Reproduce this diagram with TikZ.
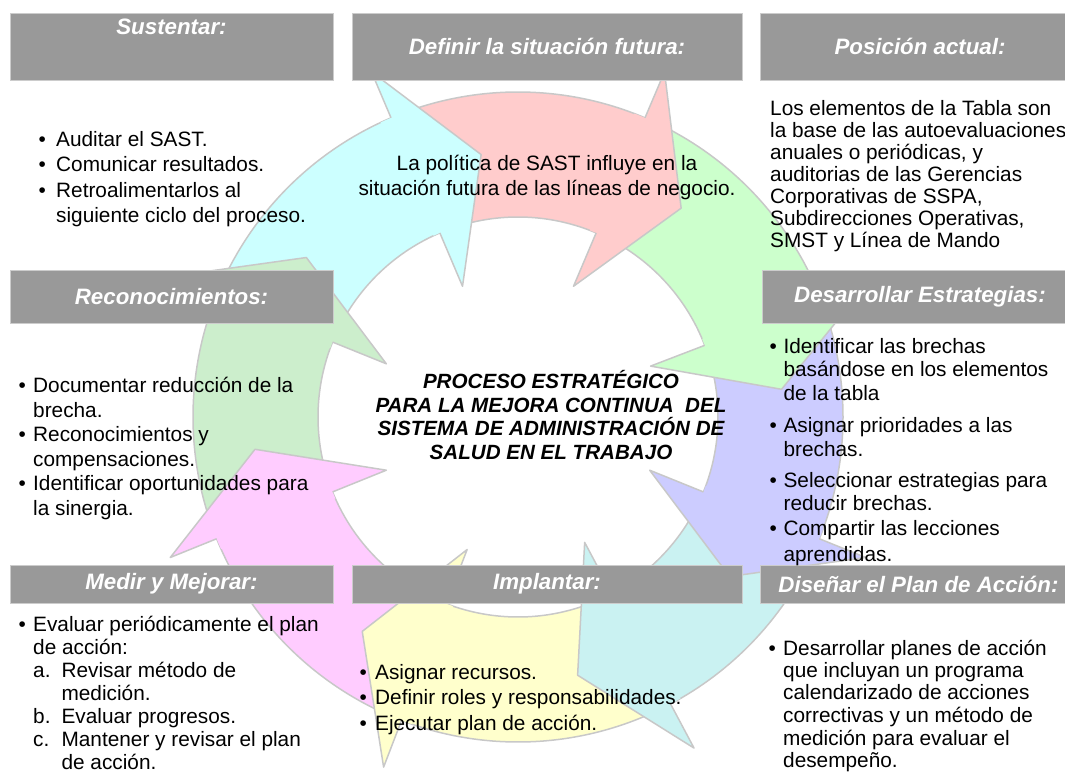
\documentclass[tikz,border=0pt]{standalone}
\usepackage{fontspec}
\setmainfont{Liberation Sans}
\usetikzlibrary{positioning}
\usetikzlibrary{calc}

\definecolor{ringcyan}{RGB}{204,255,255}
\definecolor{ringpink}{RGB}{255,204,204}
\definecolor{ringgreen}{RGB}{204,255,204}
\definecolor{ringlilac}{RGB}{204,204,255}
\definecolor{ringteal}{RGB}{202,242,242}
\definecolor{ringyellow}{RGB}{255,255,204}
\definecolor{ringmagenta}{RGB}{255,204,255}
\definecolor{ringsage}{RGB}{204,238,204}
\definecolor{ringline}{RGB}{200,200,200}
\definecolor{headgray}{RGB}{153,153,153}

\newcommand{\bulit}[1][14.6bp]{\strut\makebox[#1][l]{\textbullet}}
\newcommand{\contl}[1][14.6bp]{\strut\hspace*{#1}}
\newcommand{\subit}[1]{\makebox[28.4bp][l]{#1}}

\begin{document}
\begin{tikzpicture}[x=1bp, y=-1bp,
	hbox/.style={fill=headgray, draw=gray!40, line width=0.8bp, inner sep=0pt, text=white, font=\fontsize{22.3bp}{26bp}\selectfont\bfseries\itshape},
	htxt/.style={inner sep=0pt, text=white, font=\fontsize{22.3bp}{26bp}\selectfont\bfseries\itshape},
	bodytxt/.style={font={\fontsize{20.8bp}{#1}\selectfont}, align=left, anchor=north west, inner sep=0pt},
	arrowbody/.style={draw=ringline, line width=1.5bp, line join=round},
	arrowedge/.style={draw=ringline, line width=1.5bp, line join=round}]
			\useasboundingbox (0,0) rectangle (1065,776) ;
			\begin{scope}[shift={(518,417)}, y=1bp]
				\foreach \col/\ta/\hb in {ringcyan/153/113, ringpink/108/67, ringgreen/62/21, ringlilac/16/-22, ringteal/-27/-62, ringyellow/-67/-111, ringmagenta/-116/-158, ringsage/197/158}
					\path[arrowbody, fill=\col] (\ta:325) arc[start angle=\ta, end angle=\hb, radius=325] -- (\hb:200) arc[start angle=\hb, end angle=\ta, radius=200] -- cycle ;
				\foreach \col/\hb in {ringcyan/113, ringpink/67, ringgreen/21, ringlilac/-22, ringteal/-62, ringyellow/-111, ringmagenta/-158, ringsage/158} {
					\fill[\col] ({\hb+2}:325) arc[start angle={\hb+2}, end angle=\hb, radius=325] -- (\hb:375) -- ({\hb-15}:265) -- (\hb:142) -- (\hb:200) arc[start angle=\hb, end angle={\hb+2}, radius=200] -- cycle ;
					\draw[arrowedge] (\hb:325) -- (\hb:375) -- ({\hb-15}:265) -- (\hb:142) -- (\hb:200) ; }
			\end{scope}
			\node at (171.5,46.5) (hsus) [hbox, minimum width=323bp, minimum height=67bp] {} ;
			\node [htxt, below=6bp of hsus.north] (lsus) {Sustentar:} ;
			\node at (547,46.5) (hdef) [hbox, minimum width=390bp, minimum height=67bp] {Definir la situación futura:} ;
			\node at (912.5,46.5) (hpos) [hbox, minimum width=305bp, minimum height=67bp] {\hspace*{15bp}Posición actual:} ;
			\node at (171.5,296.5) (hrec) [hbox, minimum width=323bp, minimum height=53bp] {Reconocimientos:} ;
			\node at (913.5,296.5) (hdes) [hbox, minimum width=303bp, minimum height=53bp] {\hspace*{13bp}Desarrollar Estrategias:} ;
			\node at (171.5,584) (hmed) [hbox, minimum width=323bp, minimum height=38bp] {Medir y Mejorar:} ;
			\node at (547,584) (himp) [hbox, minimum width=390bp, minimum height=38bp] {Implantar:} ;
			\node at (912.5,584) (hdis) [hbox, minimum width=305bp, minimum height=38bp] {\hspace*{12bp}Diseñar el Plan de Acción:} ;
			\node at (38.4,128) (tsus) [bodytxt=25.6bp] {\bulit[17.6bp]Auditar el SAST.\\ \bulit[17.6bp]Comunicar resultados.\\ \bulit[17.6bp]Retroalimentarlos al\\ \contl[17.6bp]siguiente ciclo del proceso.} ;
			\node at (547,153) (tdef) [bodytxt=25bp, align=center, anchor=north] {\strut La política de SAST influye en la\\ \strut situación futura de las líneas de negocio.} ;
			\node at (770,100) (tpos) [bodytxt=22bp] {\strut Los elementos de la Tabla son\\ \strut la base de las autoevaluaciones\\ \strut anuales o periódicas, y\\ \strut auditorias de las Gerencias\\ \strut Corporativas de SSPA,\\ \strut Subdirecciones Operativas,\\ \strut SMST y Línea de Mando} ;
			\node at (18.4,375) (trec) [bodytxt=24.6bp] {\bulit Documentar reducción de la\\ \contl brecha.\\ \bulit Reconocimientos y\\ \contl compensaciones.\\ \bulit Identificar oportunidades para\\ \contl la sinergia.} ;
			\node at (769.4,336.4) (tdes) [bodytxt=23.5bp] {\bulit[14bp]Identificar las brechas\\ \contl[14bp]basándose en los elementos\\ \contl[14bp]de la tabla\\[9bp] \bulit[14bp]Asignar prioridades a las\\ \contl[14bp]brechas.\\[7.5bp] \bulit[14bp]Seleccionar estrategias para\\ \contl[14bp]reducir brechas.\\[1.5bp] \bulit[14bp]Compartir las lecciones\\[2bp] \contl[14bp]aprendidas.} ;
			\node at (18.4,615) (tmed) [bodytxt=23bp] {\bulit Evaluar periódicamente el plan\\ \contl de acción:\\ \contl\subit{a.}Revisar método de\\ \contl\subit{}medición.\\ \contl\subit{b.}Evaluar progresos.\\ \contl\subit{c.}Mantener y revisar el plan\\ \contl\subit{}de acción.} ;
			\node at (359.4,661) (timp) [bodytxt=25.5bp] {\bulit[15.6bp]Asignar recursos.\\ \bulit[15.6bp]Definir roles y responsabilidades.\\ \bulit[15.6bp]Ejecutar plan de acción.} ;
			\node at (768.4,640.4) (tdis) [bodytxt=21.8bp] {\bulit Desarrollar planes de acción\\ \contl que incluyan un programa\\ \contl calendarizado de acciones\\ \contl correctivas y un método de\\ \contl medición para evaluar el\\ \contl desempeño.} ;
			\node at (551,370) (title) [align=center, anchor=north, inner sep=0pt, font={\fontsize{20.6bp}{23.7bp}\selectfont\bfseries\itshape}] {\strut PROCESO ESTRATÉGICO\\ PARA LA MEJORA CONTINUA\ \ DEL\\ SISTEMA DE ADMINISTRACIÓN DE\\ SALUD EN EL TRABAJO} ; %two spaces as in the original
\end{tikzpicture}
\end{document}
